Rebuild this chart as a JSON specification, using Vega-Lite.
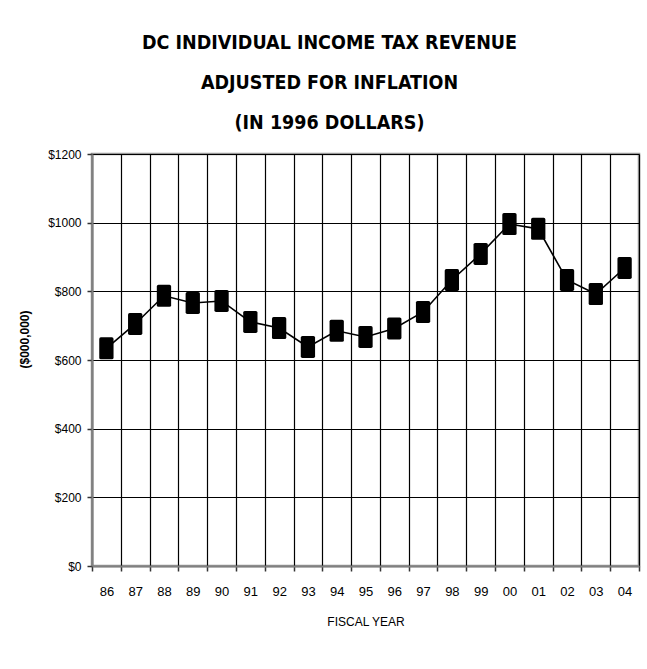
{
  "$schema": "https://vega.github.io/schema/vega-lite/v6.json",
  "width": 547,
  "height": 412,
  "autosize": {"type": "none"},
  "padding": {"left": 92, "top": 154, "right": 8, "bottom": 103},
  "background": "white",
  "title": {
    "text": ["DC INDIVIDUAL INCOME TAX REVENUE", "ADJUSTED FOR INFLATION", "(IN 1996 DOLLARS)"],
    "font": "DejaVu Sans Condensed",
    "fontSize": 19.5,
    "fontWeight": "bold",
    "lineHeight": 40,
    "color": "#000000",
    "anchor": "middle",
    "frame": "group",
    "dx": -36,
    "offset": 15
  },
  "data": {
    "values": [
      {"year": "86", "revenue": 634},
      {"year": "87", "revenue": 705},
      {"year": "88", "revenue": 787},
      {"year": "89", "revenue": 766},
      {"year": "90", "revenue": 772},
      {"year": "91", "revenue": 711},
      {"year": "92", "revenue": 693},
      {"year": "93", "revenue": 638},
      {"year": "94", "revenue": 685},
      {"year": "95", "revenue": 667},
      {"year": "96", "revenue": 692},
      {"year": "97", "revenue": 740},
      {"year": "98", "revenue": 833},
      {"year": "99", "revenue": 909},
      {"year": "00", "revenue": 996},
      {"year": "01", "revenue": 982},
      {"year": "02", "revenue": 833},
      {"year": "03", "revenue": 792},
      {"year": "04", "revenue": 868}
    ]
  },
  "encoding": {
    "x": {
      "field": "year",
      "type": "ordinal",
      "sort": null,
      "scale": {"paddingInner": 0, "paddingOuter": 0},
      "axis": {
        "title": "FISCAL YEAR",
        "titleFont": "Liberation Sans",
        "titleFontSize": 12,
        "titleFontWeight": "normal",
        "titleColor": "#000000",
        "titlePadding": 18,
        "labelAngle": 0,
        "labelFont": "Liberation Sans",
        "labelFontSize": 13,
        "labelColor": "#000000",
        "labelPadding": 14,
        "tickBand": "extent",
        "tickSize": 5,
        "tickColor": "#333333",
        "tickWidth": 1.5,
        "grid": true,
        "gridColor": "#000000",
        "gridWidth": 1.2,
        "gridOpacity": 1,
        "domainColor": "#808080",
        "domainWidth": 2
      }
    },
    "y": {
      "field": "revenue",
      "type": "quantitative",
      "scale": {"domain": [0, 1200], "nice": false, "zero": true},
      "axis": {
        "title": "($000,000)",
        "titleFont": "Liberation Sans",
        "titleFontSize": 12,
        "titleFontWeight": "bold",
        "titleColor": "#000000",
        "titlePadding": 16,
        "titleY": 185,
        "values": [0, 200, 400, 600, 800, 1000, 1200],
        "format": "$d",
        "labelFont": "Liberation Sans",
        "labelFontSize": 12,
        "labelColor": "#000000",
        "labelPadding": 6,
        "tickSize": 5,
        "tickColor": "#333333",
        "tickWidth": 1.5,
        "grid": true,
        "gridColor": "#000000",
        "gridWidth": 1.2,
        "gridOpacity": 1,
        "domainColor": "#808080",
        "domainWidth": 2
      }
    }
  },
  "layer": [
    {
      "mark": {"type": "line", "color": "#000000", "strokeWidth": 1.6}
    },
    {
      "mark": {
        "type": "point",
        "filled": true,
        "opacity": 1,
        "color": "#000000",
        "size": 484,
        "shape": "M-0.5,-1H0.5Q0.65,-1 0.65,-0.85V0.85Q0.65,1 0.5,1H-0.5Q-0.65,1 -0.65,0.85V-0.85Q-0.65,-1 -0.5,-1Z"
      }
    }
  ],
  "config": {
    "view": {"stroke": "#999999", "strokeWidth": 2.5}
  }
}
